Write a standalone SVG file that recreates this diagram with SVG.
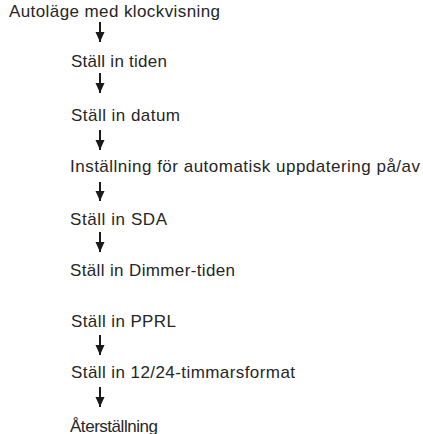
<svg xmlns="http://www.w3.org/2000/svg" width="423" height="434" viewBox="0 0 423 434">
<style>
  .lbl { font-family: "Liberation Sans", Arial, sans-serif; font-size: 17px; fill: #262626; }
  .conn { stroke: #1a1a1a; stroke-width: 2; fill: none; marker-end: url(#ah); }
</style>
<defs>
  <marker id="ah" markerUnits="userSpaceOnUse" markerWidth="11" markerHeight="10" refX="10" refY="4.5" orient="auto">
    <path d="M0,0 L10,4.5 L0,9 z" fill="#1a1a1a"/>
  </marker>
</defs>
<rect width="423" height="434" fill="#ffffff"/>
<g id="connectors">
  <line class="conn" x1="100" y1="22" x2="100" y2="42"/>
  <line class="conn" x1="100" y1="73" x2="100" y2="93"/>
  <line class="conn" x1="100" y1="130" x2="100" y2="150"/>
  <line class="conn" x1="100" y1="182" x2="100" y2="201"/>
  <line class="conn" x1="100" y1="232" x2="100" y2="252"/>
  <line class="conn" x1="100" y1="335" x2="100" y2="355"/>
  <line class="conn" x1="100" y1="387" x2="100" y2="407"/>
</g>
<g id="n1"><text class="lbl" x="9" y="17" textLength="211" lengthAdjust="spacing">Autoläge med klockvisning</text></g>
<g id="n2"><text class="lbl" x="71" y="67" textLength="96" lengthAdjust="spacing">Ställ in tiden</text></g>
<g id="n3"><text class="lbl" x="71" y="121" textLength="109" lengthAdjust="spacing">Ställ in datum</text></g>
<g id="n4"><text class="lbl" x="70" y="172" textLength="350" lengthAdjust="spacing">Inställning för automatisk uppdatering på/av</text></g>
<g id="n5"><text class="lbl" x="70" y="225" textLength="97" lengthAdjust="spacing">Ställ in SDA</text></g>
<g id="n6"><text class="lbl" x="70" y="276" textLength="165" lengthAdjust="spacing">Ställ in Dimmer-tiden</text></g>
<g id="n7"><text class="lbl" x="71" y="327" textLength="105" lengthAdjust="spacing">Ställ in PPRL</text></g>
<g id="n8"><text class="lbl" x="71" y="378" textLength="224" lengthAdjust="spacing">Ställ in 12/24-timmarsformat</text></g>
<g id="n9"><text class="lbl" x="70" y="432" textLength="88" lengthAdjust="spacing">Återställning</text></g>
</svg>
